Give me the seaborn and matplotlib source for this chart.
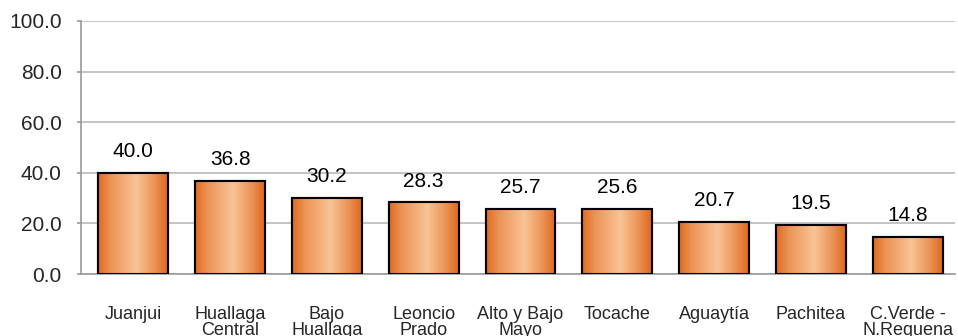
import numpy as np
import pandas as pd
import matplotlib
matplotlib.use("Agg")
import matplotlib.pyplot as plt
import seaborn as sns
from matplotlib.colors import LinearSegmentedColormap

categories = ["Juanjui", "Huallaga\nCentral", "Bajo\nHuallaga", "Leoncio\nPrado",
              "Alto y Bajo\nMayo", "Tocache", "Aguaytía", "Pachitea", "C.Verde -\nN.Requena"]
values = [40.0, 36.8, 30.2, 28.3, 25.7, 25.6, 20.7, 19.5, 14.8]
yticks = [0, 20, 40, 60, 80, 100]

sns.set_theme(style="white")
plt.rcParams['font.family'] = ['Liberation Sans', 'DejaVu Sans']

fig = plt.figure(figsize=(9.58, 3.36), dpi=100)
ax = fig.add_axes([0.0846, 0.1845, 0.9124, 0.753])

df = pd.DataFrame({"cat": categories, "val": values})
sns.barplot(data=df, x="cat", y="val", ax=ax, color="#E87A30", width=0.72,
            edgecolor="black", linewidth=1.5, zorder=3)

cmap = LinearSegmentedColormap.from_list(
    "g", [(0.0, "#DF6A1F"), (0.18, "#EC9355"), (0.55, "#F8C496"), (0.82, "#EB9152"), (1.0, "#DD661C")])
grad = np.linspace(0, 1, 256).reshape(1, -1)
for p in list(ax.patches):
    x0, y0 = p.get_x(), p.get_y()
    w, h = p.get_width(), p.get_height()
    im = ax.imshow(grad, cmap=cmap, aspect="auto", extent=[x0, x0 + w, y0, y0 + h],
                   zorder=3.5, interpolation="bilinear")
    im.set_clip_path(p)
    edge = plt.Rectangle((x0, y0), w, h, fill=False, edgecolor="black", linewidth=1.5, zorder=4)
    ax.add_patch(edge)

for i, v in enumerate(values):
    ax.annotate(f"{v:.1f}", (i, v), xytext=(0, 8.5), textcoords="offset points",
                ha="center", va="bottom", fontsize=15, color="black")

ax.set_xlim(-0.54, 8.49)
ax.set_ylim(0, 100)
ax.set_yticks(yticks)
ax.set_yticklabels([f"{t:.1f}" for t in yticks])
ax.set_xlabel("")
ax.set_ylabel("")
ax.grid(axis="y", color="#B4B4B4", linewidth=1.1, zorder=0)
ax.set_axisbelow(True)
for s in ["top", "right"]:
    ax.spines[s].set_visible(False)
for s in ["left", "bottom"]:
    ax.spines[s].set_color("#9A9A9A")
    ax.spines[s].set_linewidth(1.2)
ax.tick_params(axis="y", left=True, length=3, color="#9A9A9A", width=1.2, labelsize=15, pad=11)
ax.tick_params(axis="x", bottom=False, labelsize=13, pad=17)
for lbl in ax.get_xticklabels():
    lbl.set_linespacing(0.92)
    lbl.set_va("top")

fig.savefig("out.png", dpi=100)
